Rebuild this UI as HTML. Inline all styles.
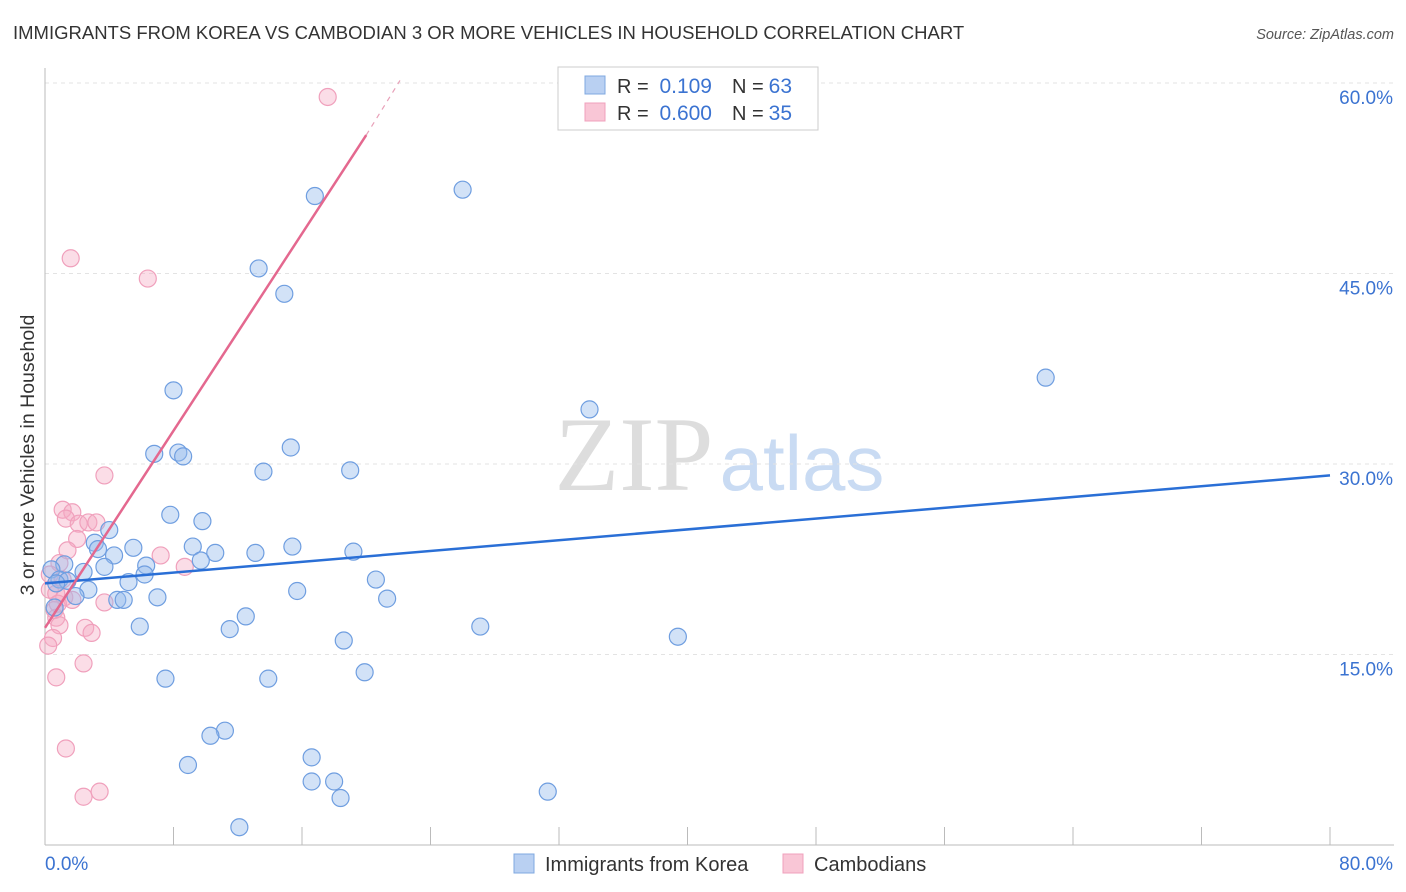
<!DOCTYPE html>
<html><head><meta charset="utf-8"><style>
body{margin:0;background:#fff;font-family:"Liberation Sans",sans-serif;}
#wrap{position:relative;width:1406px;height:892px;overflow:hidden}
</style></head><body>
<div id="wrap">
<svg id="svg" width="1406" height="892" xmlns="http://www.w3.org/2000/svg">
<text x="13" y="39" font-size="18.5" fill="#333">IMMIGRANTS FROM KOREA VS CAMBODIAN 3 OR MORE VEHICLES IN HOUSEHOLD CORRELATION CHART</text>
<text x="1394" y="39" font-size="14.5" fill="#555" font-style="italic" text-anchor="end">Source: ZipAtlas.com</text>
<text x="634" y="490" font-size="106" fill="#ddd" font-family="Liberation Serif" text-anchor="middle">ZIP</text>
<text x="802" y="490" font-size="78" fill="#c9dbf3" text-anchor="middle">atlas</text>
<text transform="translate(34,455) rotate(-90)" font-size="19.5" fill="#333" text-anchor="middle">3 or more Vehicles in Household</text>
<g id="grid"></g><g id="pts"></g><g id="lines"></g>
<g>
<rect x="558" y="67" width="260" height="63" fill="#fff" stroke="#ccc"/>
<rect x="585" y="76" width="20" height="18" fill="#b9d0f2" stroke="#7fa8e0"/>
<rect x="585" y="103" width="20" height="18" fill="#f9c6d6" stroke="#f0a0bc"/>
<text x="617" y="93" font-size="20" fill="#333">R =</text><text x="712" y="93" font-size="21" fill="#3b73d1" text-anchor="end">0.109</text>
<text x="732" y="93" font-size="20" fill="#333">N =</text><text x="792" y="93" font-size="21" fill="#3b73d1" text-anchor="end">63</text>
<text x="617" y="120" font-size="20" fill="#333">R =</text><text x="712" y="120" font-size="21" fill="#3b73d1" text-anchor="end">0.600</text>
<text x="732" y="120" font-size="20" fill="#333">N =</text><text x="792" y="120" font-size="21" fill="#3b73d1" text-anchor="end">35</text>
</g>
<g>
<rect x="514" y="854" width="20" height="19" fill="#b9d0f2" stroke="#7fa8e0"/>
<text x="545" y="871" font-size="20" fill="#333">Immigrants from Korea</text>
<rect x="783" y="854" width="20" height="19" fill="#f9c6d6" stroke="#f0a0bc"/>
<text x="814" y="871" font-size="20" fill="#333">Cambodians</text>
</g>
</svg></div>
<script>
const yTicks=[15,30,45,60];
const yTickLabels=["15.0%","30.0%","45.0%","60.0%"];
const xTickLabels=["0.0%","80.0%"];
const koreaX=[16.8,26.0,13.3,14.9,62.3,33.9,8.0,6.8,8.3,8.6,15.3,13.6,19.0,7.8,9.8,4.0,3.1,3.3,5.5,4.3,9.2,10.6,13.1,15.4,19.2,9.7,6.3,3.7,1.2,6.2,2.4,5.2,20.6,0.4,0.9,1.4,0.7,2.7,1.9,15.7,7.0,4.5,4.9,21.3,0.6,12.5,5.9,11.5,27.1,18.6,39.4,19.9,7.5,13.9,11.2,10.3,8.9,16.6,16.6,18.0,18.4,31.3,12.1];
const koreaY=[51.1,51.6,45.4,43.4,36.8,34.3,35.8,30.8,30.9,30.6,31.3,29.4,29.5,26.0,25.5,24.8,23.8,23.3,23.4,22.8,23.5,23.0,23.0,23.5,23.1,22.4,22.0,21.9,22.1,21.3,21.5,20.7,20.9,21.7,20.9,20.8,20.6,20.1,19.6,20.0,19.5,19.3,19.3,19.4,18.7,18.0,17.2,17.0,17.2,16.1,16.4,13.6,13.1,13.1,9.0,8.6,6.3,6.9,5.0,5.0,3.7,4.2,1.4];
const cambX=[17.6,1.6,6.4,3.7,1.1,1.7,1.3,2.1,2.7,3.2,2.0,1.4,7.2,8.7,0.9,0.3,0.7,1.2,1.7,3.7,0.6,0.7,0.9,2.5,2.9,0.5,0.2,2.4,0.7,1.3,2.4,3.4,0.3,1.1,0.8];
const cambY=[58.9,46.2,44.6,29.1,26.4,26.2,25.7,25.3,25.4,25.4,24.1,23.2,22.8,21.9,22.2,20.1,19.8,19.5,19.3,19.1,18.5,17.9,17.3,17.1,16.7,16.3,15.7,14.3,13.2,7.6,3.8,4.2,21.3,20.9,19.0];
const koreaTrend=[[0,20.6],[80,29.1]];
const cambTrend=[[0,17.1],[20,55.9]];
const cambDash=[[20,55.9],[22.1,60.2]];
const NS="http://www.w3.org/2000/svg";
const X=v=>45+v*(1330-45)/80, Y=v=>845-v*12.7;
function mk(t,a,p){const e=document.createElementNS(NS,t);for(const k in a)e.setAttribute(k,a[k]);p.appendChild(e);return e;}
const grid=document.getElementById('grid');
yTicks.forEach((t,i)=>{
 const l=mk('line',{x1:45,x2:1394,y1:Y(t),y2:Y(t),stroke:'#e3e3e3','stroke-dasharray':'4,4'},grid);
 
 
 const tx=mk('text',{x:1393,y:Y(t)+21,'font-size':19,fill:'#3b73d1','text-anchor':'end'},grid);
 tx.textContent=yTickLabels[i];
 
 
});
const ax=mk('line',{x1:45,x2:1394,y1:845,y2:845,stroke:'#bbb'},grid);


const ay=mk('line',{x1:45,x2:45,y1:68,y2:845,stroke:'#bbb'},grid);


for(let v=0;v<=80;v+=8){const t=mk('line',{x1:X(v),x2:X(v),y1:827,y2:845,stroke:'#bbb'},grid);
 
 }
[[0,'start',45],[80,'end',1393]].forEach((d,i)=>{const t=mk('text',{x:d[2],y:870,'font-size':19,fill:'#3b73d1','text-anchor':d[1]},grid);t.textContent=xTickLabels[i];
 
 });
const pts=document.getElementById('pts');
cambX.forEach((x,i)=>{const c=mk('circle',{cx:X(x),cy:Y(cambY[i]),r:8.5,fill:'rgba(245,170,195,0.4)',stroke:'#f0a0bc','stroke-width':1.2},pts);
 
 });
koreaX.forEach((x,i)=>{const c=mk('circle',{cx:X(x),cy:Y(koreaY[i]),r:8.5,fill:'rgba(147,186,235,0.42)',stroke:'#6f9ee0','stroke-width':1.2},pts);
 
 });
const lines=document.getElementById('lines');
const l1=mk('line',{x1:X(koreaTrend[0][0]),y1:Y(koreaTrend[0][1]),x2:X(koreaTrend[1][0]),y2:Y(koreaTrend[1][1]),stroke:'#2a6fd6','stroke-width':2.5},lines);


const l2=mk('line',{x1:X(cambTrend[0][0]),y1:Y(cambTrend[0][1]),x2:X(cambTrend[1][0]),y2:Y(cambTrend[1][1]),stroke:'#e4688f','stroke-width':2.5},lines);


const l3=mk('line',{x1:X(cambDash[0][0]),y1:Y(cambDash[0][1]),x2:X(cambDash[1][0]),y2:Y(cambDash[1][1]),stroke:'#e8a0b8','stroke-width':1.2,'stroke-dasharray':'5,5'},lines);


</script>
</body></html>
